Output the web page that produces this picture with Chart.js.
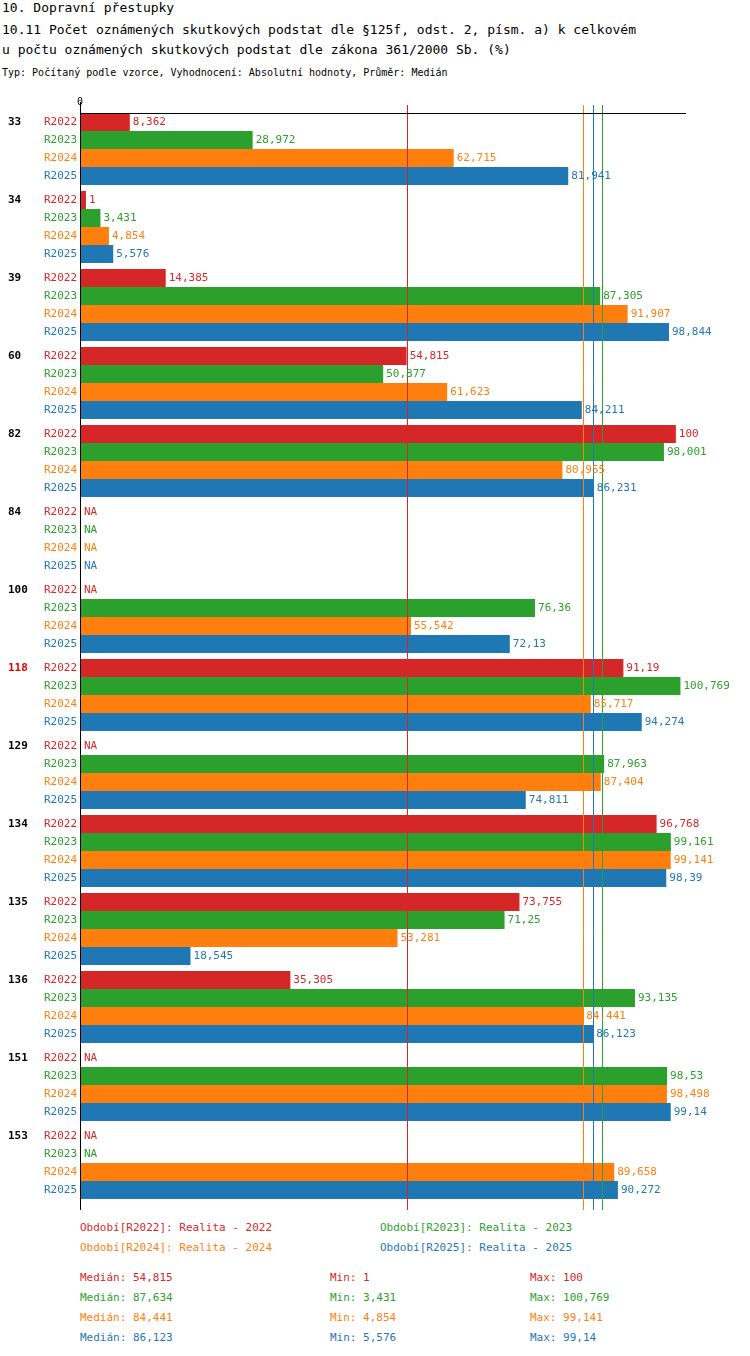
<!DOCTYPE html>
<html><head><meta charset="utf-8">
<script src="https://cdn.jsdelivr.net/npm/chart.js@4"></script>
<style>
body{margin:0;background:#fff;font-family:"DejaVu Sans Mono",monospace;}
#wrap{position:relative;width:750px;height:1356px;}
.t{position:absolute;white-space:nowrap;font-size:11px;}
</style></head><body>
<div id="wrap">
<div class="t" style="left:2px;top:0px;font-size:13px">10. Dopravní přestupky</div>
<div class="t" style="left:2px;top:22px;font-size:13px">10.11 Počet oznámených skutkových podstat dle §125f, odst. 2, písm. a) k celkovém</div>
<div class="t" style="left:2px;top:42px;font-size:13px">u počtu oznámených skutkových podstat dle zákona 361/2000 Sb. (%)</div>
<div class="t" style="left:2px;top:67px;font-size:10px">Typ: Počítaný podle vzorce, Vyhodnocení: Absolutní hodnoty, Průměr: Medián</div>
<canvas id="c" width="750" height="1212" style="position:absolute;left:0;top:0"></canvas>
<div id="bottom"></div>
</div>
<script>
// ==================== DATA ====================
const kategorie = ["33", "34", "39", "60", "82", "84", "100", "118", "129", "134", "135", "136", "151", "153"];
const obdobi = ["R2022", "R2023", "R2024", "R2025"];
const barvy = ["#d62728", "#2ca02c", "#ff7f0e", "#1f77b4"];
const r2022 = [8.362, 1, 14.385, 54.815, 100, null, null, 91.19, null, 96.768, 73.755, 35.305, null, null];
const r2023 = [28.972, 3.431, 87.305, 50.877, 98.001, null, 76.36, 100.769, 87.963, 99.161, 71.25, 93.135, 98.53, null];
const r2024 = [62.715, 4.854, 91.907, 61.623, 80.955, null, 55.542, 85.717, 87.404, 99.141, 53.281, 84.441, 98.498, 89.658];
const r2025 = [81.941, 5.576, 98.844, 84.211, 86.231, null, 72.13, 94.274, 74.811, 98.39, 18.545, 86.123, 99.14, 90.272];
const mediany = [54.815, 87.634, 84.441, 86.123];
const minima = [1, 3.431, 4.854, 5.576];
const maxima = [100, 100.769, 99.141, 99.14];
const zvyraznene = ["118"];

const fmt = (v) => String(v).replace(".", ",");
const serie = [r2022, r2023, r2024, r2025];

// ==================== POPISKY ====================
const popisky = {
  id: "popisky",
  afterDatasetsDraw(chart) {
    const ctx = chart.ctx;
    const x = chart.scales.x, area = chart.chartArea;
    ctx.save();
    ctx.font = "11px 'DejaVu Sans Mono'";
    ctx.textBaseline = "middle";
    // mediany
    mediany.forEach((m, i) => {
      ctx.strokeStyle = barvy[i];
      ctx.lineWidth = 1;
      ctx.beginPath();
      ctx.moveTo(Math.round(x.getPixelForValue(m)) + 0.5, area.top - 5);
      ctx.lineTo(Math.round(x.getPixelForValue(m)) + 0.5, area.bottom + 8);
      ctx.stroke();
    });
    // osy
    ctx.strokeStyle = "#000";
    ctx.beginPath();
    ctx.moveTo(area.left, area.top + 3.5); ctx.lineTo(area.right, area.top + 3.5);
    ctx.moveTo(area.left + 0.5, area.top - 8); ctx.lineTo(area.left + 0.5, area.bottom + 8);
    ctx.stroke();
    ctx.fillStyle = "#000";
    ctx.font = "10px 'DejaVu Sans Mono'";
    ctx.textAlign = "center";
    ctx.fillText("0", area.left, area.top - 8);
    ctx.textAlign = "left";
    ctx.font = "11px 'DejaVu Sans Mono'";
    const yScale = chart.scales.y;
    const krok = yScale.height / kategorie.length;
    const vyska = krok * 0.923 / 4;
    kategorie.forEach((k, ci) => {
      const stred = yScale.getPixelForValue(ci);
      obdobi.forEach((o, si) => {
        const y = stred - 1.5 * vyska + si * vyska;
        ctx.fillStyle = barvy[si];
        ctx.textAlign = "right";
        ctx.fillText(o, 77, y);
        ctx.textAlign = "left";
        const v = serie[si][ci];
        if (v == null) ctx.fillText("NA", area.left + 4, y);
        else ctx.fillText(fmt(v), x.getPixelForValue(v) + 3, y);
      });
      ctx.fillStyle = zvyraznene.includes(k) ? "#e00000" : "#000";
      ctx.font = "bold 11px 'DejaVu Sans Mono'";
      ctx.fillText(k, 8, stred - 1.5 * vyska);
      ctx.font = "11px 'DejaVu Sans Mono'";
    });
    ctx.restore();
  },
};

new Chart(document.getElementById("c"), {
  type: "bar",
  data: {
    labels: kategorie,
    datasets: obdobi.map((o, i) => ({
      label: o,
      data: serie[i],
      backgroundColor: barvy[i],
      categoryPercentage: 0.923,
      barPercentage: 1,
    })),
  },
  options: {
    indexAxis: "y",
    responsive: false,
    animation: false,
    layout: { padding: { left: 80, right: 64, top: 110, bottom: 10 } },
    plugins: { legend: { display: false }, tooltip: { enabled: false } },
    scales: {
      x: { display: false, min: 0, max: 101.7 },
      y: { display: false },
    },
  },
  plugins: [popisky],
});

// ==================== SPODNI TEXTY ====================
const bottom = document.getElementById("bottom");
let html = "";
const legX = [80, 380];
obdobi.forEach((o, i) => {
  const rok = o.slice(1);
  html += `<div class="t" style="left:${legX[i % 2]}px;top:${1221 + Math.floor(i / 2) * 20}px;color:${barvy[i]}">Období[${o}]: Realita - ${rok}</div>`;
});
obdobi.forEach((o, i) => {
  const top = 1271 + i * 20;
  html += `<div class="t" style="left:80px;top:${top}px;color:${barvy[i]}">Medián: ${fmt(mediany[i])}</div>`;
  html += `<div class="t" style="left:330px;top:${top}px;color:${barvy[i]}">Min: ${fmt(minima[i])}</div>`;
  html += `<div class="t" style="left:530px;top:${top}px;color:${barvy[i]}">Max: ${fmt(maxima[i])}</div>`;
});
bottom.innerHTML = html;
</script>
</body></html>
